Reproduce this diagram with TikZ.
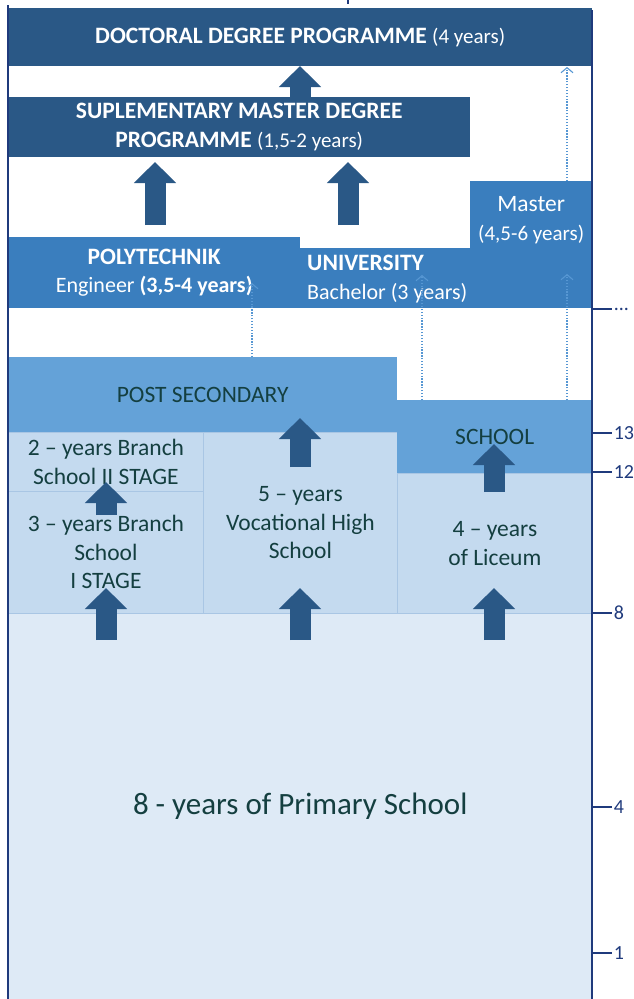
\documentclass[tikz,border=0pt]{standalone}
\usepackage{fontspec}
\setmainfont{Carlito}
\usetikzlibrary{arrows.meta}
\definecolor{darkblue}{HTML}{2A5886}
\definecolor{midblue}{HTML}{3A7EBE}
\definecolor{postblue}{HTML}{64A2D8}
\definecolor{lightblue}{HTML}{C4DAEF}
\definecolor{paleblue}{HTML}{DEEAF6}
\definecolor{edgeblue}{HTML}{A9C6E4}
\definecolor{tealtext}{HTML}{143F40}
\definecolor{navy}{HTML}{1F3A7C}
\definecolor{dotblue}{HTML}{5797D3}
\newcommand{\smallpar}[1]{{\fontsize{21}{28.5}\selectfont #1}}
\newcommand{\midline}[1]{{\fontsize{22}{28.5}\selectfont #1}}
\tikzset{
  box/.style={rectangle, inner sep=0pt, anchor=north west, align=center,
    font=\fontsize{23.5}{28.5}\selectfont},
  darkbox/.style={box, fill=darkblue, text=white},
  midbox/.style={box, fill=midblue, text=white},
  postbox/.style={box, fill=postblue, text=tealtext},
  lightbox/.style={box, fill=lightblue, draw=edgeblue, line width=0.8pt, text=tealtext},
  bigarrow/.style={draw=darkblue, line width=21pt, -{Triangle[width=41pt,length=21pt]}},
  dotarrow/.style={draw=dotblue, line width=1.3pt, dash pattern=on 1.3pt off 1.6pt,
    -{Straight Barb[length=5pt,width=12pt,line width=1.1pt]}},
  tick/.style={draw=navy, line width=1.5pt},
  ticklabel/.style={right, inner sep=1pt, text=navy, font=\fontsize{20}{24}\selectfont}
}
\begin{document}
\begin{tikzpicture}[x=1pt,y=-1pt]
    \useasboundingbox (0,0) rectangle (634,999);
    % primary school
    \node[box, fill=paleblue, text=tealtext, minimum width=584pt, minimum height=386pt,
      font=\fontsize{31}{36}\selectfont] (primary) at (8,613) {8 - years of Primary School};
    % secondary level
    \node[lightbox, minimum width=195pt, minimum height=59pt] (branchII) at (8,432) {2 – years Branch\\School II STAGE};
    \node[lightbox, minimum width=195pt, minimum height=122pt] (branchI) at (8,491) {3 – years Branch\\School\\I STAGE};
    \node[lightbox, minimum width=194pt, minimum height=181pt] (vocational) at (203,432) {5 – years\\Vocational High\\School};
    \node[lightbox, minimum width=195pt, minimum height=140pt] (liceum) at (397,473) {4 – years\\of Liceum};
    \node[postbox, minimum width=389pt, minimum height=75pt] (post) at (8,357) {POST SECONDARY};
    \node[postbox, minimum width=195pt, minimum height=73pt] (school) at (397,400) {SCHOOL};
    % higher level
    \node[midbox, minimum width=292pt, minimum height=71pt] (poly) at (8,237) {\textbf{POLYTECHNIK}\\\midline{Engineer \textbf{(3,5-4 years)}}};
    \node[midbox, minimum width=292pt, minimum height=60pt] (univ) at (300,248) {};
    \node[anchor=west, align=left, inner sep=0pt, text=white, font=\fontsize{23.5}{29}\selectfont] (univtext) at (307,279) {\textbf{UNIVERSITY}\\\midline{Bachelor (3 years)}};
    \node[midbox, minimum width=122pt, minimum height=78pt] (master) at (470,181) {Master\\\smallpar{(4,5-6 years)}};
    \node[darkbox, minimum width=462pt, minimum height=60pt] (supl) at (8,97) {\textbf{SUPLEMENTARY MASTER DEGREE}\\\textbf{PROGRAMME} \smallpar{(1,5-2 years)}};
    \node[darkbox, minimum width=584pt, minimum height=58pt] (doct) at (8,8) {\textbf{DOCTORAL DEGREE PROGRAMME} \smallpar{(4 years)}};

    % dotted paths
    \coordinate (d1) at (252,357); \coordinate (e1) at (252,283);
    \coordinate (d2) at (422,400); \coordinate (e2) at (422,275);
    \coordinate (d3) at (567,400); \coordinate (e3) at (567,274);
    \coordinate (d4) at (567,181); \coordinate (e4) at (567,67);
    \foreach \i in {1,...,4}
      \draw[dotarrow] (d\i) -- (e\i);

    % block arrows
    \coordinate (a1) at (300,97);  \coordinate (b1) at (300,66);
    \coordinate (a2) at (155,225); \coordinate (b2) at (155,162);
    \coordinate (a3) at (348,225); \coordinate (b3) at (348,162);
    \coordinate (a4) at (106,515); \coordinate (b4) at (106,482);
    \coordinate (a5) at (300,467); \coordinate (b5) at (300,418);
    \coordinate (a6) at (494,492); \coordinate (b6) at (494,444);
    \coordinate (a7) at (106,640); \coordinate (b7) at (106,588);
    \coordinate (a8) at (300,640); \coordinate (b8) at (300,588);
    \coordinate (a9) at (494,640); \coordinate (b9) at (494,588);
    \foreach \i in {1,...,9}
      \draw[bigarrow] (a\i) -- (b\i);

    % frame and scale
    \draw[tick] (8,5) -- (8,999);
    \draw[tick] (592,10) -- (592,999);
    \draw[tick] (348,0) -- (348,4);
    \draw[tick] (592,309) -- (612,309) node[ticklabel] (dots) {...};
    \foreach \y/\lab in {433/13, 472/12, 613/8, 807/4, 953/1}
      \draw[tick] (592,\y) -- (612,\y) node[ticklabel] (year\lab) {\lab};
\end{tikzpicture}
\end{document}
